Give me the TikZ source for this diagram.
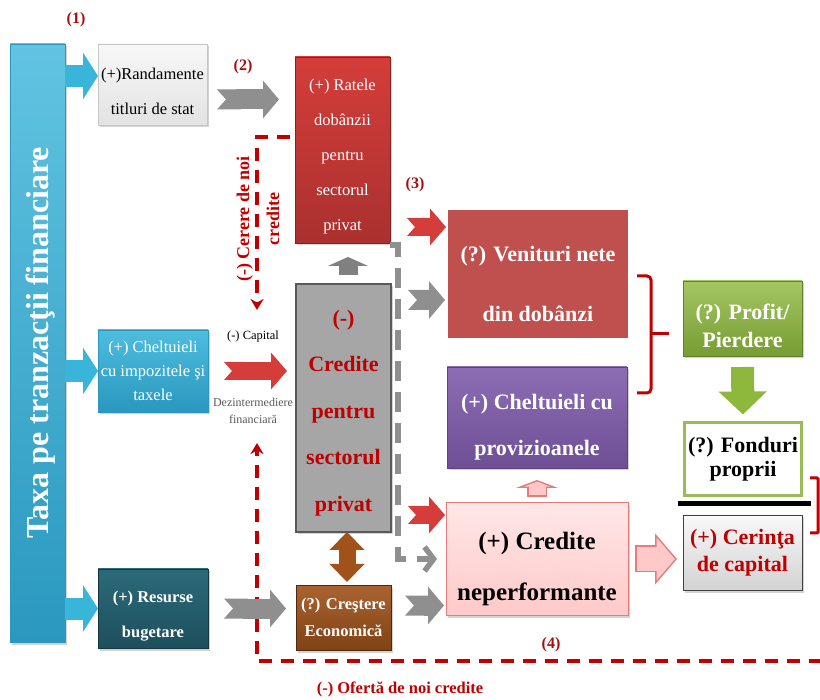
\documentclass[tikz,border=0pt]{standalone}
\usepackage{fontspec}
\setmainfont{Liberation Serif}
\usetikzlibrary{arrows.meta,shadows,positioning}

\definecolor{barblue}{HTML}{3AB5DA}
\definecolor{barbluedk}{HTML}{2A98BF}
\definecolor{numred}{HTML}{A50F0F}
\definecolor{txtred}{HTML}{C00000}
\definecolor{arrgray}{HTML}{8F8F8F}
\definecolor{arrred}{HTML}{D43D3A}
\definecolor{pinkfill}{HTML}{FFC9C9}
\definecolor{pinkline}{HTML}{E57B7B}
\definecolor{greenarr}{HTML}{8DB83C}
\definecolor{brownarr}{HTML}{A0521A}
\definecolor{restop}{HTML}{2C6A7A}
\definecolor{resbot}{HTML}{1E4F5D}
\definecolor{venred}{HTML}{C0504D}
\definecolor{purtop}{HTML}{8D6DB4}
\definecolor{purbot}{HTML}{6E4F95}
\definecolor{fondgreen}{HTML}{9BBB59}

\newcommand{\topgap}[1]{\rule{0pt}{#1}}

\tikzset{
  box/.style={rectangle, inner sep=0pt, outer sep=0pt, align=center},
  shad/.style={drop shadow={opacity=.35, shadow xshift=2pt, shadow yshift=-2.5pt}},
  numlbl/.style={text=numred, font=\bfseries\fontsize{16}{18}\selectfont},
  bluearrow/.style={draw=barblue, line width=22pt, -{Triangle[length=15pt,width=46pt]}},
  grayarrow/.style={draw=arrgray, line width=20pt, {Triangle Cap[reversed,length=9pt]}-{Triangle[length=16pt,width=37pt]}},
  redarrow/.style={draw=arrred, line width=18pt, {Triangle Cap[reversed,length=8pt]}-{Triangle[length=16pt,width=36pt]}},
  reddash/.style={draw=txtred, line width=3.5pt, dash pattern=on 13pt off 9pt, -{Stealth[length=11pt,width=13pt]}},
  graydash/.style={draw=arrgray, line width=5.5pt, dash pattern=on 20pt off 11pt, -{Straight Barb[length=9pt,width=24pt]}},
  bracket/.style={draw=txtred, line width=3pt, rounded corners=4pt},
}

\begin{document}
\begin{tikzpicture}[x=1pt, y=-1pt]
\useasboundingbox (0,0) rectangle (820,700);

% left bar
\node[box, shad, top color=barblue!80!white, bottom color=barbluedk, draw=barbluedk, minimum width=55pt, minimum height=598pt] (bar) at (37.5,343) {};
\node[rotate=90, text=white, font=\bfseries\fontsize{32}{36}\selectfont] (bartxt) at (41,343) {Taxa pe tranzacţii financiare};

% first column
\node[box, shad, top color=gray!6, bottom color=gray!22, draw=gray!45, minimum width=109pt, minimum height=81pt, font=\fontsize{16.5}{35}\selectfont] (randa) at (152.5,84.5) {\topgap{25.5pt}(+)Randamente\\titluri de stat};
\node[box, shad, top color=barblue!90!white, bottom color=barbluedk, draw=barbluedk, text=white, minimum width=110pt, minimum height=82pt, font=\fontsize{16.5}{24}\selectfont] (chelt) at (153,371) {(+) Cheltuieli\\cu impozitele şi\\taxele};
\node[box, shad, top color=restop, bottom color=resbot, draw=resbot!70!black, text=white, minimum width=110pt, minimum height=79pt, font=\bfseries\fontsize{16.5}{35}\selectfont] (resurse) at (153,608.5) {\topgap{27.5pt}(+) Resurse\\bugetare};

% second column
\node[box, shad, top color=arrred, bottom color=arrred!80!black, draw=arrred!60!black, text=white, minimum width=95pt, minimum height=186pt, font=\fontsize{16.5}{35}\selectfont] (ratele) at (342.5,150) {\topgap{24.5pt}(+) Ratele\\dobânzii\\pentru\\sectorul\\privat};
\node[box, shad, fill=gray!70, draw=black!65, line width=2pt, text=txtred, minimum width=95pt, minimum height=248pt, font=\bfseries\fontsize{22}{46.5}\selectfont] (credite) at (343.5,408) {\topgap{25pt}(-)\\Credite\\pentru\\sectorul\\privat};
\node[box, shad, top color=brownarr!90!white, bottom color=brownarr!80!black, draw=brownarr!50!black, text=white, minimum width=95pt, minimum height=65pt, font=\bfseries\fontsize{16.5}{27}\selectfont] (crestere) at (343.5,617.5) {(?) Creştere\\Economică};

% third column
\node[box, shad, fill=venred, draw=white, line width=4pt, text=white, minimum width=184pt, minimum height=132pt, font=\bfseries\fontsize{22}{60}\selectfont] (venituri) at (538,274) {\topgap{35pt}(?) Venituri nete\\din dobânzi};
\node[box, shad, top color=purtop, bottom color=purbot, draw=purbot!85!black, text=white, minimum width=180pt, minimum height=101pt, font=\bfseries\fontsize{22}{46}\selectfont] (provi) at (537,417.5) {\topgap{34pt}(+) Cheltuieli cu\\provizioanele};
\node[box, shad, top color=pinkfill!45!white, bottom color=pinkfill, draw=pinkline, line width=1pt, minimum width=182pt, minimum height=112pt, font=\bfseries\fontsize{25}{51}\selectfont] (neperf) at (537,559) {\topgap{37pt}(+) Credite\\neperformante};

% right column
\node[box, shad, top color=greenarr!80!white, bottom color=greenarr!85!black, draw=greenarr!70!black, text=white, minimum width=119pt, minimum height=75pt, font=\bfseries\fontsize{22}{28}\selectfont] (profit) at (742.5,318.5) {\topgap{30pt}(?) Profit/\\Pierdere};
\node[box, fill=white, draw=fondgreen, line width=3pt, minimum width=117pt, minimum height=73pt, font=\bfseries\fontsize{22}{24}\selectfont] (fonduri) at (743,459) {(?) Fonduri\\proprii};
\node[box, shad, top color=gray!5, bottom color=gray!35, draw=black!75, text=txtred, minimum width=119pt, minimum height=75pt, font=\bfseries\fontsize{22}{27}\selectfont] (cerinta) at (742.5,552.5) {(+) Cerinţa\\de capital};

% labels
\node[numlbl] (num1) at (76,20) {(1)};
\node[numlbl] (num2) at (243,67) {(2)};
\node[numlbl] (num3) at (415,185) {(3)};
\node[numlbl] (num4) at (551,645) {(4)};
\node[font=\fontsize{12.5}{14}\selectfont] (caplbl) at (253,336) {(-) Capital};
\node[text=black!65, align=center, font=\fontsize{12}{17}\selectfont] (dezlbl) at (253,411) {Dezintermediere\\financiară};
\node[rotate=90, text=txtred, align=center, font=\bfseries\fontsize{18}{30}\selectfont] (cererelbl) at (258,219) {(-) Cerere de noi\\credite};
\node[text=txtred, font=\bfseries\fontsize{16.5}{18}\selectfont] (ofertalbl) at (400,689) {(-) Ofertă de noi credite};

% dashed loops
\coordinate (cdown) at (257,310);
\coordinate (cup) at (257,443);
\coordinate (oright) at (822,661);
\draw[reddash, shorten <=5pt] ([yshift=13pt]ratele.west) -| (cdown);
\draw[reddash] (oright) -| (cup);
\draw[graydash, shorten >=9pt] ([yshift=-2pt]ratele.south east) -- ++(8,0) |- (neperf.west);

% block arrows
\coordinate (b1) at ([yshift=8.5pt]randa.west);
\draw[bluearrow] (bar.east |- b1) -- (b1);
\draw[bluearrow] (bar.east |- chelt.west) -- (chelt.west);
\draw[bluearrow] (bar.east |- resurse.west) -- (resurse.west);

\coordinate (g2) at ([yshift=-15pt]randa.east);
\draw[grayarrow, shorten <=10pt, shorten >=16pt] (g2) -- (g2 -| ratele.west);
\draw[redarrow, shorten <=16pt, shorten >=9pt] (chelt.east) -- (chelt.east -| credite.west);
\draw[grayarrow, shorten <=16pt, shorten >=10pt] (resurse.east) -- (resurse.east -| crestere.west);
\coordinate (ce) at ([yshift=12pt]crestere.east);
\draw[grayarrow, shorten <=14pt, shorten >=2pt] (ce) -- (ce -| neperf.west);

\coordinate (cu) at ([xshift=4.5pt]credite.north);
\draw[draw=black!50, line width=19pt, -{Triangle[length=9pt,width=40pt]}, shorten <=9pt, shorten >=14pt] (cu) -- (cu |- ratele.south);
\draw[draw=brownarr, line width=17pt, {Triangle[length=18pt,width=34pt]}-{Triangle[length=18pt,width=34pt]}, shorten >=3pt] ([xshift=3.5pt]credite.south) -- ([xshift=3.5pt]crestere.north);

\coordinate (v3) at ([yshift=-19pt]venituri.north west);
\draw[redarrow, shorten <=17pt, shorten >=0pt] (ratele.east |- v3) -- (v3);
\coordinate (v4) at ([yshift=-92pt]venituri.north west);
\draw[grayarrow, shorten <=17pt, shorten >=1pt] (credite.east |- v4) -- (v4);
\coordinate (n1) at ([yshift=-12pt]neperf.north west);
\draw[redarrow, shorten <=17pt, shorten >=1pt] (credite.east |- n1) -- (n1);

% pink arrows (outline, then fill)
\draw[draw=pinkline, line width=20pt, -{Triangle[length=8pt,width=42pt]}, shorten <=6pt, shorten >=12pt] (neperf.north) -- (provi.south);
\draw[draw=pinkfill, line width=17pt, -{Triangle[length=5pt,width=26pt]}, shorten <=7.5pt, shorten >=13.6pt] (neperf.north) -- (provi.south);
\draw[draw=pinkline, line width=27pt, -{Triangle[length=22pt,width=50pt]}, shorten <=7pt, shorten >=6pt] (neperf.east) -- (neperf.east -| cerinta.west);
\draw[draw=pinkfill, line width=24pt, -{Triangle[length=18.5pt,width=42pt]}, shorten <=8.5pt, shorten >=8pt] (neperf.east) -- (neperf.east -| cerinta.west);

\draw[draw=greenarr, line width=23pt, -{Triangle[length=23pt,width=47pt]}, shorten <=11pt, shorten >=8pt] (profit.south) -- (fonduri.north);

% brackets and ratio line
\coordinate (btip) at (669,334);
\draw[bracket] (637,276) -- (651,276) -- (651,393) -- (637,393);
\draw[draw=txtred, line width=3pt] (651,334) -- (btip);
\draw[line width=5pt] ([xshift=-7pt,yshift=-8pt]fonduri.south west) -- ([xshift=9pt,yshift=-8pt]fonduri.south east);
\draw[bracket, rounded corners=1pt] (810,478) -- (818,478) -- (818,533) -- (810,533);
\end{tikzpicture}
\end{document}
